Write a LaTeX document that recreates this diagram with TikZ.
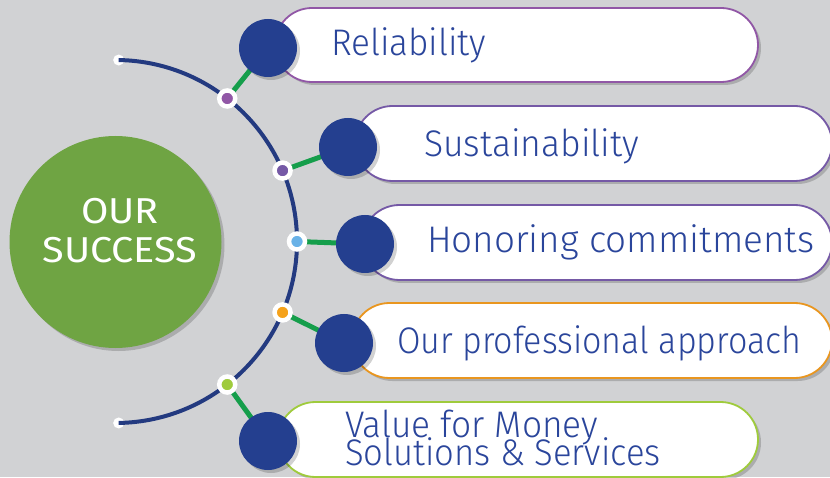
\documentclass[tikz,border=0pt]{standalone}
\usepackage{graphicx}
\usepackage{fontspec}
\setmainfont{Fira Sans Light}
\newfontfamily\hubfont{Fira Sans}
\usetikzlibrary{shapes.misc,shadows,backgrounds}

\definecolor{paper}{HTML}{D1D2D4}
\definecolor{leaf}{HTML}{6FA443}
\definecolor{navy}{HTML}{243F8F}
\definecolor{rimblue}{HTML}{233A80}
\definecolor{ink}{HTML}{2A459B}
\definecolor{linkgreen}{HTML}{159E4B}
\definecolor{plum}{HTML}{9157A6}
\definecolor{violet}{HTML}{7559A6}
\definecolor{amber}{HTML}{E9961F}
\definecolor{lime}{HTML}{9FCB3C}
\definecolor{sky}{HTML}{6AB2E7}
\definecolor{sun}{HTML}{F5A21B}

% squeeze a caption to the width of the original lettering
\newcommand{\squeeze}[2]{\scalebox{#1}[1]{#2}}

\begin{document}
\begin{tikzpicture}[x=1pt, y=1pt,
		every node/.style = {inner sep=0pt, outer sep=0pt},
		soft/.style = {drop shadow={shadow xshift=3pt, shadow yshift=-3pt, opacity=0.18, fill=black}},
		pill/.style = {shape=rounded rectangle, draw=#1, line width=1.8pt, fill=white, soft},
		ball/.style = {shape=circle, fill=navy, minimum size=58pt, soft},
		knot/.style = {shape=circle, fill=#1, draw=white, line width=4.5pt, minimum size=16pt},
		tip/.style = {shape=circle, fill=white, minimum size=11pt},
		caption/.style = {anchor=base west, text=ink, font=\fontsize{37}{37}\selectfont},
		motto/.style = {anchor=base, text=white, font=\hubfont\fontsize{36}{36}\selectfont},
		rim/.style = {draw=rimblue, line width=4pt},
		link/.style = {draw=linkgreen, line width=5pt}]
	
	\useasboundingbox (0,0) rectangle (830,477);
	
	% ground, hub and pills
	\begin{scope}[on background layer]
		\fill[paper] (0,0) rectangle (830,477);
		\node[shape=circle, fill=leaf, minimum size=212pt, soft] (core) at (115.5,235) {};
		\node[pill=plum, minimum width=483pt, minimum height=74pt] (pillR) at (516.5,432) {};
		\node[pill=violet, minimum width=477pt, minimum height=75pt] (pillS) at (593.5,333.5) {};
		\node[pill=violet, minimum width=470pt, minimum height=75pt] (pillH) at (597,234.5) {};
		\node[pill=amber, minimum width=480pt, minimum height=75pt] (pillP) at (592,136.5) {};
		\node[pill=lime, minimum width=480pt, minimum height=75pt] (pillV) at (518,37.5) {};
	\end{scope}
	
	\node[motto] (mottoA) at (120,253) {\squeeze{1.1}{OUR}};
	\node[motto] (mottoB) at (120,214) {\squeeze{1.1}{SUCCESS}};
	
	\node[caption] (textR) at (331,421) {\squeeze{0.95}{Reliability}};
	\node[caption] (textS) at (424,320) {\squeeze{0.96}{Sustainability}};
	\node[caption] (textH) at (427,224) {\squeeze{0.995}{Honoring commitments}};
	\node[caption] (textP) at (397,124) {\squeeze{0.92}{Our professional approach}};
	\node[caption] (textV) at (345,40) {\squeeze{0.955}{Value for Money}};
	\node[caption] (textW) at (345,12) {\squeeze{0.935}{Solutions \& Services}};
	
	% the rim
	\coordinate (hub) at (115.5,235.5);
	\path (hub) ++(89:181.5) node[tip] (tipA) {};
	\path (hub) ++(-89:181.5) node[tip] (tipB) {};
	\draw[rim] (tipA.center) arc[start angle=89, end angle=-89, radius=181.5];
	
	\node[ball] (ballR) at (268,429) {};
	\node[ball] (ballS) at (348,330) {};
	\node[ball] (ballH) at (365,233) {};
	\node[ball] (ballP) at (344,134) {};
	\node[ball] (ballV) at (268,36) {};
	
	\foreach \ang/\tag/\col in {52/R/plum, 23/S/violet, 0/H/sky, -23/P/sun, -52/V/lime}
		\path (hub) ++(\ang:181.5) node[knot=\col] (knot\tag) {};
	
	\begin{scope}[on background layer]
		\foreach \tag in {R,S,H,P,V}
			\draw[link] (knot\tag.center) -- (ball\tag.center);
	\end{scope}
	
\end{tikzpicture}
\end{document}
